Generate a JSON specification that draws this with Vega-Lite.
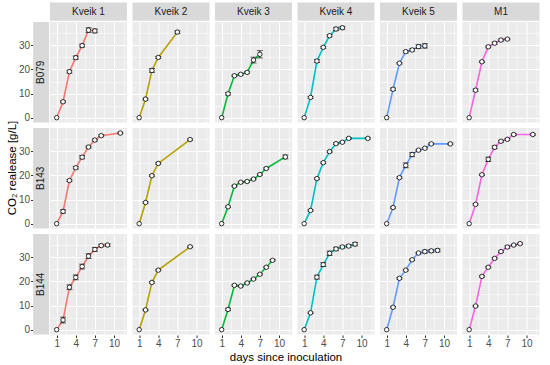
{
"$schema": "https://vega.github.io/schema/vega-lite/v6.json",
"padding": {"left": 6, "top": 2, "right": 0, "bottom": 0},
"data": {"values": [
{"batch":"B079","strain":"Kveik 1","day":1,"co2":0,"sd":0},
{"batch":"B079","strain":"Kveik 1","day":2,"co2":6.6,"sd":0.4},
{"batch":"B079","strain":"Kveik 1","day":3,"co2":19.1,"sd":0.6},
{"batch":"B079","strain":"Kveik 1","day":4,"co2":24.9,"sd":0.7},
{"batch":"B079","strain":"Kveik 1","day":5,"co2":29.9,"sd":0.6},
{"batch":"B079","strain":"Kveik 1","day":6,"co2":36.3,"sd":1.0},
{"batch":"B079","strain":"Kveik 1","day":7,"co2":36.0,"sd":0.8},
{"batch":"B079","strain":"Kveik 2","day":1,"co2":0,"sd":0},
{"batch":"B079","strain":"Kveik 2","day":2,"co2":7.7,"sd":0.4},
{"batch":"B079","strain":"Kveik 2","day":3,"co2":19.6,"sd":0.8},
{"batch":"B079","strain":"Kveik 2","day":4,"co2":25.0,"sd":0.4},
{"batch":"B079","strain":"Kveik 2","day":7,"co2":35.5,"sd":0.5},
{"batch":"B079","strain":"Kveik 3","day":1,"co2":0,"sd":0},
{"batch":"B079","strain":"Kveik 3","day":2,"co2":9.9,"sd":0.5},
{"batch":"B079","strain":"Kveik 3","day":3,"co2":17.4,"sd":0.3},
{"batch":"B079","strain":"Kveik 3","day":4,"co2":18.0,"sd":0.3},
{"batch":"B079","strain":"Kveik 3","day":5,"co2":18.8,"sd":0.3},
{"batch":"B079","strain":"Kveik 3","day":6,"co2":23.9,"sd":1.2},
{"batch":"B079","strain":"Kveik 3","day":7,"co2":26.3,"sd":1.5},
{"batch":"B079","strain":"Kveik 4","day":1,"co2":0,"sd":0},
{"batch":"B079","strain":"Kveik 4","day":2,"co2":8.4,"sd":0.4},
{"batch":"B079","strain":"Kveik 4","day":3,"co2":23.5,"sd":0.6},
{"batch":"B079","strain":"Kveik 4","day":4,"co2":29.2,"sd":0.4},
{"batch":"B079","strain":"Kveik 4","day":5,"co2":34.0,"sd":0.5},
{"batch":"B079","strain":"Kveik 4","day":6,"co2":36.8,"sd":0.7},
{"batch":"B079","strain":"Kveik 4","day":7,"co2":37.3,"sd":0.6},
{"batch":"B079","strain":"Kveik 5","day":1,"co2":0,"sd":0},
{"batch":"B079","strain":"Kveik 5","day":2,"co2":11.8,"sd":0.5},
{"batch":"B079","strain":"Kveik 5","day":3,"co2":22.6,"sd":0.3},
{"batch":"B079","strain":"Kveik 5","day":4,"co2":27.4,"sd":0.5},
{"batch":"B079","strain":"Kveik 5","day":5,"co2":28.1,"sd":0.5},
{"batch":"B079","strain":"Kveik 5","day":6,"co2":29.5,"sd":0.8},
{"batch":"B079","strain":"Kveik 5","day":7,"co2":29.8,"sd":0.9},
{"batch":"B079","strain":"M1","day":1,"co2":0,"sd":0},
{"batch":"B079","strain":"M1","day":2,"co2":11.4,"sd":0.5},
{"batch":"B079","strain":"M1","day":3,"co2":23.2,"sd":0.3},
{"batch":"B079","strain":"M1","day":4,"co2":29.4,"sd":0.4},
{"batch":"B079","strain":"M1","day":5,"co2":30.9,"sd":0.5},
{"batch":"B079","strain":"M1","day":6,"co2":32.2,"sd":0.4},
{"batch":"B079","strain":"M1","day":7,"co2":32.6,"sd":0.3},
{"batch":"B143","strain":"Kveik 1","day":1,"co2":0,"sd":0},
{"batch":"B143","strain":"Kveik 1","day":2,"co2":5.1,"sd":0.7},
{"batch":"B143","strain":"Kveik 1","day":3,"co2":17.9,"sd":0.4},
{"batch":"B143","strain":"Kveik 1","day":4,"co2":23.2,"sd":0.5},
{"batch":"B143","strain":"Kveik 1","day":5,"co2":27.6,"sd":0.7},
{"batch":"B143","strain":"Kveik 1","day":6,"co2":31.8,"sd":0.4},
{"batch":"B143","strain":"Kveik 1","day":7,"co2":34.7,"sd":0.4},
{"batch":"B143","strain":"Kveik 1","day":8,"co2":36.5,"sd":0.4},
{"batch":"B143","strain":"Kveik 1","day":11,"co2":37.6,"sd":0.3},
{"batch":"B143","strain":"Kveik 2","day":1,"co2":0,"sd":0},
{"batch":"B143","strain":"Kveik 2","day":2,"co2":8.8,"sd":0.3},
{"batch":"B143","strain":"Kveik 2","day":3,"co2":19.9,"sd":0.3},
{"batch":"B143","strain":"Kveik 2","day":4,"co2":25.0,"sd":0.3},
{"batch":"B143","strain":"Kveik 2","day":9,"co2":34.9,"sd":0.3},
{"batch":"B143","strain":"Kveik 3","day":1,"co2":0,"sd":0},
{"batch":"B143","strain":"Kveik 3","day":2,"co2":7.0,"sd":0.3},
{"batch":"B143","strain":"Kveik 3","day":3,"co2":15.6,"sd":0.3},
{"batch":"B143","strain":"Kveik 3","day":4,"co2":17.2,"sd":0.3},
{"batch":"B143","strain":"Kveik 3","day":5,"co2":17.5,"sd":0.3},
{"batch":"B143","strain":"Kveik 3","day":6,"co2":18.5,"sd":0.3},
{"batch":"B143","strain":"Kveik 3","day":7,"co2":20.4,"sd":0.3},
{"batch":"B143","strain":"Kveik 3","day":8,"co2":22.9,"sd":0.3},
{"batch":"B143","strain":"Kveik 3","day":11,"co2":27.7,"sd":0.8},
{"batch":"B143","strain":"Kveik 4","day":1,"co2":0,"sd":0},
{"batch":"B143","strain":"Kveik 4","day":2,"co2":5.5,"sd":0.3},
{"batch":"B143","strain":"Kveik 4","day":3,"co2":18.7,"sd":0.3},
{"batch":"B143","strain":"Kveik 4","day":4,"co2":25.3,"sd":0.3},
{"batch":"B143","strain":"Kveik 4","day":5,"co2":29.9,"sd":0.3},
{"batch":"B143","strain":"Kveik 4","day":6,"co2":33.2,"sd":0.3},
{"batch":"B143","strain":"Kveik 4","day":7,"co2":33.8,"sd":0.3},
{"batch":"B143","strain":"Kveik 4","day":8,"co2":35.4,"sd":0.3},
{"batch":"B143","strain":"Kveik 4","day":11,"co2":35.4,"sd":0.3},
{"batch":"B143","strain":"Kveik 5","day":1,"co2":0,"sd":0},
{"batch":"B143","strain":"Kveik 5","day":2,"co2":6.7,"sd":0.3},
{"batch":"B143","strain":"Kveik 5","day":3,"co2":19.1,"sd":0.3},
{"batch":"B143","strain":"Kveik 5","day":4,"co2":24.2,"sd":1.0},
{"batch":"B143","strain":"Kveik 5","day":5,"co2":28.7,"sd":0.9},
{"batch":"B143","strain":"Kveik 5","day":6,"co2":30.5,"sd":0.3},
{"batch":"B143","strain":"Kveik 5","day":7,"co2":31.3,"sd":0.3},
{"batch":"B143","strain":"Kveik 5","day":8,"co2":33.1,"sd":0.3},
{"batch":"B143","strain":"Kveik 5","day":11,"co2":33.1,"sd":0.3},
{"batch":"B143","strain":"M1","day":1,"co2":0,"sd":0},
{"batch":"B143","strain":"M1","day":2,"co2":8.0,"sd":0.3},
{"batch":"B143","strain":"M1","day":3,"co2":20.3,"sd":0.3},
{"batch":"B143","strain":"M1","day":4,"co2":26.7,"sd":0.9},
{"batch":"B143","strain":"M1","day":5,"co2":31.7,"sd":0.6},
{"batch":"B143","strain":"M1","day":6,"co2":34.2,"sd":0.4},
{"batch":"B143","strain":"M1","day":7,"co2":35.0,"sd":0.3},
{"batch":"B143","strain":"M1","day":8,"co2":37.0,"sd":0.3},
{"batch":"B143","strain":"M1","day":11,"co2":37.0,"sd":0.3},
{"batch":"B144","strain":"Kveik 1","day":1,"co2":0,"sd":0},
{"batch":"B144","strain":"Kveik 1","day":2,"co2":4.0,"sd":1.2},
{"batch":"B144","strain":"Kveik 1","day":3,"co2":17.6,"sd":1.0},
{"batch":"B144","strain":"Kveik 1","day":4,"co2":21.7,"sd":1.0},
{"batch":"B144","strain":"Kveik 1","day":5,"co2":26.2,"sd":1.0},
{"batch":"B144","strain":"Kveik 1","day":6,"co2":30.5,"sd":1.0},
{"batch":"B144","strain":"Kveik 1","day":7,"co2":33.3,"sd":0.8},
{"batch":"B144","strain":"Kveik 1","day":8,"co2":34.9,"sd":0.5},
{"batch":"B144","strain":"Kveik 1","day":9,"co2":35.1,"sd":0.5},
{"batch":"B144","strain":"Kveik 2","day":1,"co2":0,"sd":0},
{"batch":"B144","strain":"Kveik 2","day":2,"co2":8.2,"sd":0.3},
{"batch":"B144","strain":"Kveik 2","day":3,"co2":19.6,"sd":0.3},
{"batch":"B144","strain":"Kveik 2","day":4,"co2":24.7,"sd":0.3},
{"batch":"B144","strain":"Kveik 2","day":9,"co2":34.4,"sd":0.3},
{"batch":"B144","strain":"Kveik 3","day":1,"co2":0,"sd":0},
{"batch":"B144","strain":"Kveik 3","day":2,"co2":8.4,"sd":0.5},
{"batch":"B144","strain":"Kveik 3","day":3,"co2":18.4,"sd":0.3},
{"batch":"B144","strain":"Kveik 3","day":4,"co2":18.1,"sd":0.3},
{"batch":"B144","strain":"Kveik 3","day":5,"co2":19.4,"sd":0.3},
{"batch":"B144","strain":"Kveik 3","day":6,"co2":21.0,"sd":0.3},
{"batch":"B144","strain":"Kveik 3","day":7,"co2":23.0,"sd":0.3},
{"batch":"B144","strain":"Kveik 3","day":8,"co2":25.9,"sd":0.3},
{"batch":"B144","strain":"Kveik 3","day":9,"co2":28.8,"sd":0.3},
{"batch":"B144","strain":"Kveik 4","day":1,"co2":0,"sd":0},
{"batch":"B144","strain":"Kveik 4","day":2,"co2":7.0,"sd":0.3},
{"batch":"B144","strain":"Kveik 4","day":3,"co2":21.8,"sd":0.8},
{"batch":"B144","strain":"Kveik 4","day":4,"co2":27.0,"sd":0.8},
{"batch":"B144","strain":"Kveik 4","day":5,"co2":31.7,"sd":0.9},
{"batch":"B144","strain":"Kveik 4","day":6,"co2":33.5,"sd":0.7},
{"batch":"B144","strain":"Kveik 4","day":7,"co2":34.3,"sd":0.5},
{"batch":"B144","strain":"Kveik 4","day":8,"co2":34.7,"sd":0.5},
{"batch":"B144","strain":"Kveik 4","day":9,"co2":35.5,"sd":0.7},
{"batch":"B144","strain":"Kveik 5","day":1,"co2":0,"sd":0},
{"batch":"B144","strain":"Kveik 5","day":2,"co2":9.3,"sd":0.3},
{"batch":"B144","strain":"Kveik 5","day":3,"co2":21.3,"sd":0.3},
{"batch":"B144","strain":"Kveik 5","day":4,"co2":24.7,"sd":0.3},
{"batch":"B144","strain":"Kveik 5","day":5,"co2":29.0,"sd":0.3},
{"batch":"B144","strain":"Kveik 5","day":6,"co2":31.8,"sd":0.3},
{"batch":"B144","strain":"Kveik 5","day":7,"co2":32.4,"sd":0.6},
{"batch":"B144","strain":"Kveik 5","day":8,"co2":32.7,"sd":0.6},
{"batch":"B144","strain":"Kveik 5","day":9,"co2":32.9,"sd":0.6},
{"batch":"B144","strain":"M1","day":1,"co2":0,"sd":0},
{"batch":"B144","strain":"M1","day":2,"co2":9.8,"sd":0.3},
{"batch":"B144","strain":"M1","day":3,"co2":22.1,"sd":0.3},
{"batch":"B144","strain":"M1","day":4,"co2":25.9,"sd":0.3},
{"batch":"B144","strain":"M1","day":5,"co2":29.6,"sd":0.3},
{"batch":"B144","strain":"M1","day":6,"co2":32.4,"sd":0.3},
{"batch":"B144","strain":"M1","day":7,"co2":34.3,"sd":0.5},
{"batch":"B144","strain":"M1","day":8,"co2":35.1,"sd":0.3},
{"batch":"B144","strain":"M1","day":9,"co2":35.7,"sd":0.3}
]},
"facet": {
  "row": {"field": "batch", "type": "nominal", "title": "CO₂ realease [g/L]", "header": {"labels": false, "labelPadding": 0, "titleOrient": "left", "titlePadding": -10}},
  "column": {"field": "strain", "type": "nominal", "title": "days since inoculation", "header": {"labels": false, "labelPadding": 0, "titleOrient": "bottom", "titlePadding": -7}}
},
"spacing": {"row": 5, "column": 5.5},
"bounds": "flush",
"spec": {
  "width": 77,
  "height": 100.5,
  "layer": [
    {
      "mark": {"type": "line", "strokeWidth": 1.6},
      "encoding": {
        "x": {"field": "day", "type": "quantitative",
          "scale": {"domain": [-0.05, 12.05], "nice": false, "zero": false},
          "axis": {
            "title": null,
            "format": "d",
            "tickCount": 20,
            "values": [1, 2.5, 4, 5.5, 7, 8.5, 10, 11.5],
            "labelExpr": "(datum.value - 1) % 3 === 0 ? datum.label : ''",
            "gridWidth": {"condition": {"test": "(datum.value - 1) % 3 === 0", "value": 1.1}, "value": 0.5},
            "tickOpacity": {"condition": {"test": "(datum.value - 1) % 3 === 0", "value": 1}, "value": 0}
          }},
        "y": {"field": "co2", "type": "quantitative",
          "scale": {"domain": [-2, 39.7], "nice": false, "zero": false},
          "axis": {
            "title": null,
            "offset": 17,
            "format": "d",
            "tickCount": 20,
            "values": [0, 5, 10, 15, 20, 25, 30, 35],
            "labelExpr": "datum.value % 10 === 0 ? datum.label : ''",
            "gridWidth": {"condition": {"test": "datum.value % 10 === 0", "value": 1.1}, "value": 0.5},
            "tickOpacity": {"condition": {"test": "datum.value % 10 === 0", "value": 1}, "value": 0}
          }},
        "color": {"field": "strain", "type": "nominal", "legend": null,
          "scale": {"domain": ["Kveik 1", "Kveik 2", "Kveik 3", "Kveik 4", "Kveik 5", "M1"],
                    "range": ["#F8766D", "#B79F00", "#00BA38", "#00BFC4", "#619CFF", "#F564E3"]}}
      }
    },
    {
      "transform": [{"filter": "datum.sd > 0"}],
      "mark": {"type": "errorbar", "color": "black", "ticks": {"size": 6, "thickness": 0.9}, "rule": {"strokeWidth": 0.9}},
      "encoding": {
        "x": {"field": "day", "type": "quantitative", "title": null},
        "y": {"field": "co2", "type": "quantitative", "title": null},
        "yError": {"field": "sd"}
      }
    },
    {
      "mark": {"type": "point", "shape": "circle", "filled": true, "fill": "white", "stroke": "black", "strokeWidth": 0.8, "size": 20, "opacity": 1},
      "encoding": {
        "x": {"field": "day", "type": "quantitative", "title": null},
        "y": {"field": "co2", "type": "quantitative", "title": null}
      }
    },
    {
      "transform": [{"filter": "datum.batch === 'B079' && datum.day === 1"}],
      "mark": {"type": "rect", "fill": "#D9D9D9", "clip": false},
      "encoding": {
        "x": {"datum": -0.05, "type": "quantitative"},
        "x2": {"datum": 12.05},
        "y": {"datum": 40.2, "type": "quantitative"},
        "y2": {"datum": 47.8}
      }
    },
    {
      "transform": [{"filter": "datum.batch === 'B079' && datum.day === 1"}],
      "mark": {"type": "text", "fontSize": 10, "color": "#1A1A1A", "clip": false, "baseline": "middle"},
      "encoding": {
        "x": {"datum": 6, "type": "quantitative"},
        "y": {"datum": 44, "type": "quantitative"},
        "text": {"field": "strain"}
      }
    },
    {
      "transform": [{"filter": "datum.strain === 'Kveik 1' && datum.day === 1"}],
      "mark": {"type": "rect", "fill": "#D9D9D9", "clip": false},
      "encoding": {
        "x": {"datum": -2.7, "type": "quantitative"},
        "x2": {"datum": -0.2},
        "y": {"datum": -2, "type": "quantitative"},
        "y2": {"datum": 39.7}
      }
    },
    {
      "transform": [{"filter": "datum.strain === 'Kveik 1' && datum.day === 1"}],
      "mark": {"type": "text", "fontSize": 10, "color": "#1A1A1A", "angle": 270, "clip": false, "baseline": "middle"},
      "encoding": {
        "x": {"datum": -1.45, "type": "quantitative"},
        "y": {"datum": 18.85, "type": "quantitative"},
        "text": {"field": "batch"}
      }
    }
  ]
},
"config": {
  "font": "Liberation Sans",
  "view": {"fill": "#EBEBEB", "stroke": null},
  "header": {"titleFontSize": 11.5, "titleFontWeight": "normal", "titleColor": "#000000"},
  "axis": {
    "domain": false,
    "gridColor": "#FFFFFF",
    "tickColor": "#333333",
    "tickSize": 2.5,
    "labelColor": "#4D4D4D",
    "labelFontSize": 10,
    "labelPadding": 1,
    "labelFlush": false,
    "labelOverlap": false
  }
}
}
